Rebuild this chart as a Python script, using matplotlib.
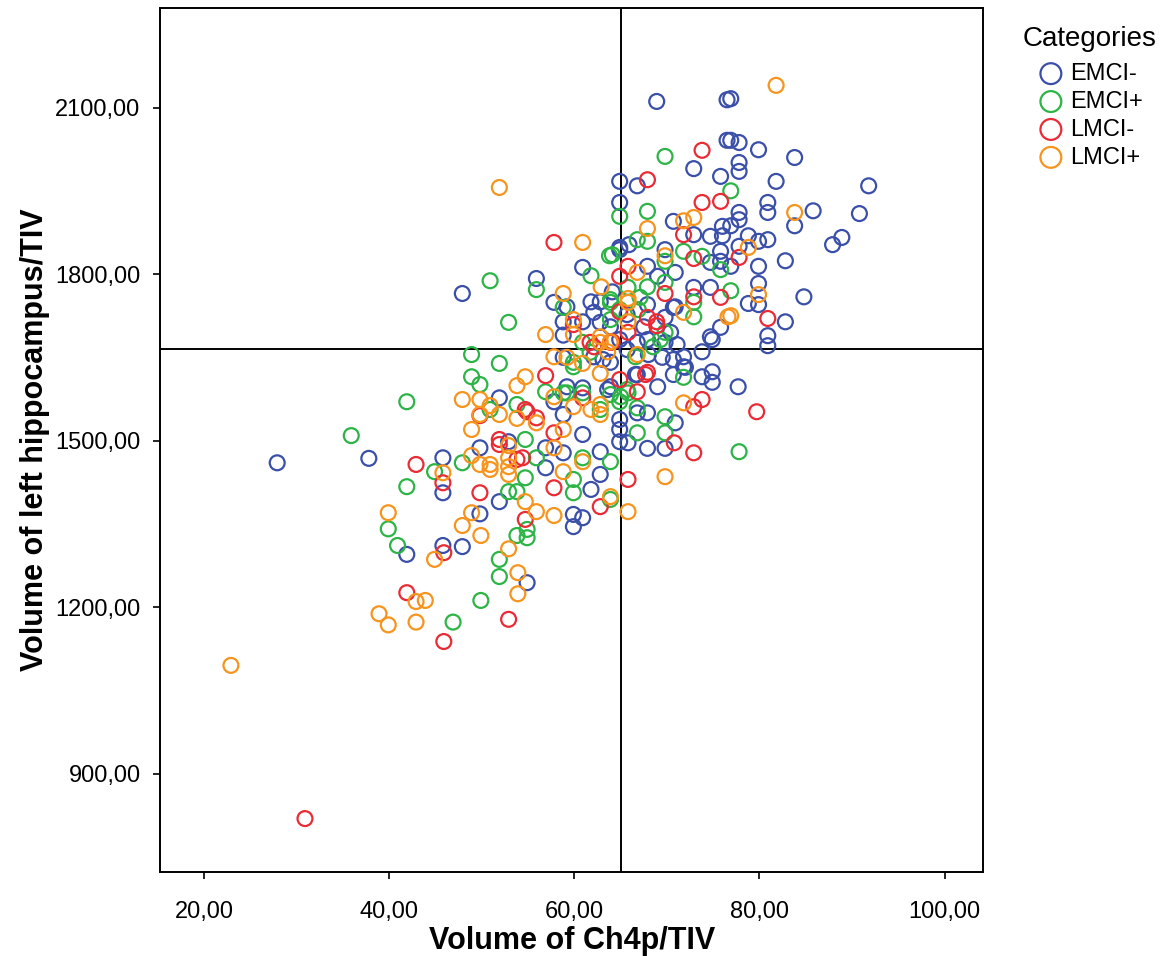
import matplotlib.pyplot as plt
from matplotlib.ticker import FuncFormatter

plt.rcParams['font.family'] = ['Liberation Sans', 'DejaVu Sans']

# EMCI- (blue)
emci_neg_x = [27.9, 37.8, 41.9, 45.8, 47.9, 49.8, 51.9, 54.9, 47.9, 55.9,
              64.9, 64.9, 64.9, 60.9, 57.8, 61.8, 62.8, 58.8, 60.9, 62.8, 58.8, 64.9,
              68.9, 76.5, 76.5, 72.9, 66.8, 75.8, 70.7, 72.9, 74.7, 65.9, 64.9, 69.8,
              74.7, 75.8, 75.8, 67.9, 70.9, 69.0, 64.1, 72.9, 74.7, 67.9, 70.7, 69.8,
              75.8, 74.7, 67.9, 69.8, 66.8,
              76.9, 76.9, 77.8, 79.9, 83.8, 77.8, 77.8, 81.8, 91.8, 80.9, 80.9, 85.8,
              90.8, 77.8, 77.8, 76.9, 76.0, 76.0, 83.8, 78.8, 79.9, 80.9, 88.9, 87.9,
              77.8, 76.9, 79.9, 82.8, 79.9, 78.8, 79.9, 84.8, 82.8, 80.9, 80.9,
              51.9, 52.9, 49.8, 45.8, 45.8,
              58.8, 57.8, 60.9, 63.9, 58.8, 64.9, 64.9, 60.9, 64.9, 56.9, 58.8, 62.8,
              56.9, 62.8, 61.8,
              66.8, 70.7, 71.8, 73.8, 74.9, 74.9, 77.7, 69.0, 67.9, 66.8, 70.9, 65.8,
              67.9, 69.8,
              59.9, 60.9, 59.9,
              59.2, 62.1, 63.9, 65.7, 67.5, 70.4, 70.9, 62.1, 63.1, 63.9, 65.7, 68.0,
              69.5, 70.7, 66.6, 59.2, 63.6,
              74.9, 73.8, 71.1, 71.8, 72.0]
emci_neg_y = [1460, 1468, 1295, 1311, 1309, 1368, 1390, 1244, 1765, 1792,
              1967, 1929, 1848, 1812, 1749, 1750, 1750, 1714, 1714, 1713, 1690, 1682,
              2111, 2114, 2041, 1990, 1959, 1976, 1895, 1871, 1868, 1853, 1844, 1844,
              1821, 1841, 1823, 1814, 1803, 1796, 1768, 1776, 1776, 1745, 1740, 1722,
              1704, 1687, 1682, 1677, 1677,
              2116, 2041, 2037, 2024, 2010, 2001, 1985, 1967, 1959, 1929, 1911, 1914,
              1909, 1911, 1898, 1887, 1886, 1869, 1887, 1869, 1859, 1862, 1866, 1853,
              1850, 1814, 1814, 1824, 1783, 1747, 1745, 1759, 1714, 1689, 1671,
              1577, 1498, 1487, 1469, 1406,
              1650, 1570, 1595, 1597, 1547, 1538, 1520, 1511, 1498, 1487, 1478, 1480,
              1451, 1439, 1412,
              1619, 1619, 1633, 1615, 1624, 1605, 1597, 1597, 1550, 1550, 1532, 1496,
              1486, 1486,
              1367, 1361, 1345,
              1741, 1731, 1705, 1727, 1705, 1695, 1741, 1651, 1646, 1641, 1664, 1655,
              1650, 1646, 1619, 1597, 1592,
              1682, 1660, 1673, 1651, 1632]

# EMCI+ (green)
emci_pos_x = [35.9, 39.9, 40.9, 53.8, 54.9, 54.9, 51.9, 51.9, 49.9, 46.9,
              50.9, 52.9, 55.9,
              64.9, 63.8, 61.8, 58.8, 63.9, 63.9, 60.9,
              69.8, 67.9, 66.8, 67.9, 64.1, 71.8, 69.8, 73.8, 75.8, 67.9, 69.8, 65.8,
              67.1, 64.9, 72.9, 72.9, 69.8,
              76.9, 76.9,
              48.9, 51.9, 48.9, 49.8, 50.9, 53.8, 41.9, 54.7, 47.9, 44.9, 41.9, 52.9,
              53.8, 54.7,
              59.9, 56.9, 58.8, 60.9, 62.8, 63.9, 64.9, 55.9, 60.9, 63.9, 59.9, 59.9,
              71.8, 65.8, 65.0, 66.8, 69.8, 66.8, 69.8, 77.8, 63.9,
              63.9, 66.9, 69.3, 68.5, 59.9, 61.7, 66.6, 65.7, 59.2]
emci_pos_y = [1509, 1341, 1311, 1329, 1340, 1325, 1286, 1255, 1212, 1173,
              1788, 1713, 1772,
              1904, 1833, 1797, 1740, 1754, 1718, 1677,
              2012, 1913, 1862, 1859, 1835, 1841, 1823, 1832, 1808, 1777, 1785, 1776,
              1758, 1736, 1749, 1723, 1695,
              1950, 1770,
              1655, 1639, 1615, 1601, 1556, 1565, 1570, 1502, 1460, 1444, 1417, 1408,
              1408, 1433,
              1633, 1588, 1586, 1586, 1556, 1583, 1570, 1469, 1469, 1462, 1430, 1406,
              1614, 1586, 1579, 1559, 1543, 1514, 1514, 1480, 1394,
              1749, 1736, 1682, 1669, 1641, 1659, 1651, 1592, 1586]

# LMCI- (red)
lmci_neg_x = [30.9, 45.9, 54.7, 41.9, 52.9, 45.9,
              57.8, 64.9, 64.9, 59.9, 61.7,
              73.8, 67.9, 73.8, 75.8, 71.8, 72.9, 65.8, 69.8, 72.9, 75.8, 67.9, 68.9,
              68.9, 65.8, 64.1,
              77.8, 80.9,
              49.8, 54.7, 51.9, 51.9, 53.8, 42.9, 45.8, 49.8,
              56.9, 60.9, 64.9, 54.9, 55.9, 57.8, 54.4, 57.8, 62.8,
              67.9, 66.8, 72.9, 73.8, 79.7, 70.8, 72.9, 65.8,
              62.1, 63.9, 67.7]
lmci_neg_y = [819, 1298, 1358, 1226, 1178, 1138,
              1857, 1796, 1732, 1709, 1677,
              2023, 1970, 1929, 1931, 1871, 1828, 1814, 1765, 1759, 1758, 1722, 1714,
              1707, 1695, 1678,
              1830, 1720,
              1545, 1556, 1502, 1493, 1466, 1457, 1424, 1406,
              1617, 1577, 1610, 1552, 1541, 1514, 1469, 1415, 1381,
              1623, 1588, 1561, 1574, 1552, 1496, 1478, 1430,
              1669, 1677, 1619]

# LMCI+ (orange)
lmci_pos_x = [22.9, 39.9, 44.9, 47.9, 48.9, 49.9, 54.7, 52.9, 53.9, 53.9, 42.9,
              43.9, 38.9, 39.9, 42.9,
              51.9,
              60.9, 62.9, 58.8, 59.9, 56.9, 59.9, 62.8, 63.9,
              71.8, 72.9, 67.9, 69.8, 66.8, 65.8, 71.8, 65.8, 76.6,
              81.8, 83.8, 78.8, 79.9, 76.9,
              47.9, 49.8, 50.9, 49.8, 51.9, 53.8, 54.7, 53.8, 48.9, 52.9, 48.9, 49.8,
              50.9, 50.9, 52.9, 52.9, 52.9, 45.8,
              57.8, 60.9, 57.8, 59.9, 61.8, 62.8, 62.8, 62.8, 55.9, 58.8, 57.8, 60.9,
              58.8, 63.9,
              66.8, 71.8, 69.8, 65.8,
              55.9, 57.8,
              65.8, 62.8, 63.6, 59.2]
lmci_pos_y = [1095, 1370, 1286, 1347, 1370, 1329, 1390, 1305, 1262, 1224, 1210,
              1212, 1188, 1168, 1173,
              1956,
              1857, 1777, 1765, 1718, 1691, 1691, 1687, 1678,
              1896, 1902, 1882, 1833, 1803, 1756, 1731, 1714, 1723,
              2140, 1911, 1848, 1763, 1725,
              1574, 1574, 1563, 1547, 1547, 1599, 1615, 1540, 1520, 1491, 1473, 1457,
              1457, 1448, 1469, 1453, 1439, 1442,
              1651, 1639, 1579, 1561, 1556, 1565, 1547, 1621, 1532, 1520, 1487, 1462,
              1444, 1399,
              1655, 1568, 1435, 1372,
              1372, 1365,
              1749, 1677, 1660, 1650]

categories = ['EMCI-', 'EMCI+', 'LMCI-', 'LMCI+']
colors = ['#3a4fa8', '#2db446', '#ea2b35', '#f7941d']
series = [(emci_neg_x, emci_neg_y), (emci_pos_x, emci_pos_y),
          (lmci_neg_x, lmci_neg_y), (lmci_pos_x, lmci_pos_y)]

fig = plt.figure(figsize=(11.68, 9.56), dpi=100)
ax = fig.add_axes([0.137, 0.088, 0.705, 0.904])

for cat, col, (xs, ys) in zip(categories, colors, series):
    ax.scatter(xs, ys, s=115, facecolors='none', edgecolors=col, linewidths=1.6,
               label=cat, zorder=3)

ax.axvline(65, color='black', lw=1.4, zorder=2)
ax.axhline(1665, color='black', lw=1.4, zorder=2)

ax.set_xlim(15.24, 104.2)
ax.set_ylim(723, 2280)
ax.set_xticks([20, 40, 60, 80, 100])
ax.set_yticks([900, 1200, 1500, 1800, 2100])
fmt = FuncFormatter(lambda v, p: f'{v:.2f}'.replace('.', ','))
ax.xaxis.set_major_formatter(fmt)
ax.yaxis.set_major_formatter(fmt)
ax.tick_params(direction='out', length=5, width=1.2, labelsize=17)
ax.tick_params(axis='x', pad=16)
ax.tick_params(axis='y', pad=9)
for sp in ax.spines.values():
    sp.set_linewidth(1.4)

ax.set_xlabel('Volume of Ch4p/TIV', fontsize=22, fontweight='bold', labelpad=2)
ax.set_ylabel('Volume of left hippocampus/TIV', fontsize=22, fontweight='bold', labelpad=4)

leg = ax.legend(title='Categories', loc='upper left', bbox_to_anchor=(1.036, 0.99),
                frameon=False, fontsize=17, title_fontsize=20, handletextpad=-0.38,
                labelspacing=0.25, borderaxespad=0, markerscale=1.4, handlelength=2.4)
leg._legend_box.align = 'left'
leg._legend_box.sep = 8

fig.savefig('out.png', dpi=100)
